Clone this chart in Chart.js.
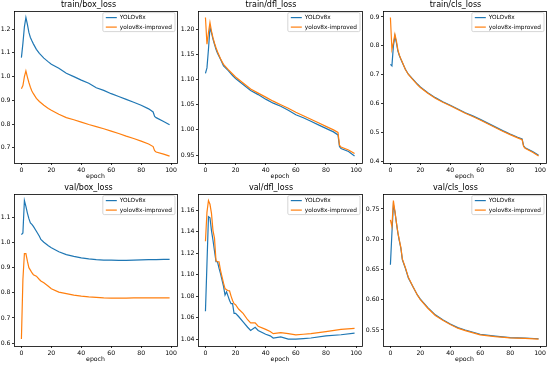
<!DOCTYPE html>
<html>
<head>
<meta charset="utf-8">
<script src="https://cdn.jsdelivr.net/npm/chart.js@4/dist/chart.umd.min.js"></script>
<style>
  html, body { margin: 0; padding: 0; background: #fff; }
  #fig { position: relative; width: 550px; height: 365px; overflow: hidden; }
  #fig canvas { position: absolute; }
</style>
</head>
<body>
<div id="fig">
  <canvas id="c0" width="180" height="182" style="left:0;top:0"></canvas>
  <canvas id="c1" width="185" height="182" style="left:180px;top:0"></canvas>
  <canvas id="c2" width="185" height="182" style="left:365px;top:0"></canvas>
  <canvas id="c3" width="180" height="182" style="left:0;top:183px"></canvas>
  <canvas id="c4" width="185" height="182" style="left:180px;top:183px"></canvas>
  <canvas id="c5" width="185" height="182" style="left:365px;top:183px"></canvas>
</div>
<script>
// epochs sampled for the training curves
const trainEpochs = [0,1,2,3,4,5,6,7,8,10,12,15,18,20,25,30,35,40,45,50,55,60,65,70,75,80,85,88,89,90,95,99];

const trainBoxV8  = [1.080,1.140,1.210,1.249,1.220,1.186,1.165,1.151,1.138,1.115,1.098,1.078,1.062,1.052,1.035,1.014,1.000,0.985,0.972,0.953,0.942,0.928,0.916,0.904,0.892,0.879,0.864,0.851,0.832,0.827,0.811,0.797];
const trainBoxImp = [0.949,0.962,1.000,1.024,0.998,0.975,0.955,0.939,0.928,0.908,0.895,0.879,0.866,0.858,0.841,0.827,0.818,0.808,0.798,0.789,0.780,0.770,0.760,0.749,0.739,0.728,0.716,0.705,0.688,0.682,0.673,0.665];

const trainDflV8  = [1.112,1.123,1.160,1.203,1.193,1.180,1.170,1.160,1.152,1.140,1.127,1.118,1.108,1.102,1.090,1.078,1.070,1.061,1.053,1.047,1.039,1.030,1.024,1.017,1.010,1.003,0.996,0.990,0.967,0.963,0.957,0.948];
const trainDflImp = [1.223,1.170,1.193,1.213,1.196,1.183,1.172,1.163,1.155,1.141,1.130,1.120,1.111,1.105,1.093,1.081,1.073,1.065,1.057,1.050,1.043,1.035,1.028,1.021,1.014,1.007,1.000,0.995,0.970,0.966,0.960,0.953];

const trainClsV8  = [0.736,0.731,0.800,0.834,0.811,0.782,0.766,0.754,0.742,0.719,0.702,0.685,0.668,0.658,0.638,0.621,0.607,0.595,0.582,0.569,0.558,0.546,0.533,0.520,0.507,0.495,0.484,0.478,0.454,0.448,0.435,0.422];
const trainClsImp = [0.898,0.788,0.811,0.840,0.817,0.786,0.768,0.755,0.743,0.718,0.701,0.683,0.666,0.656,0.636,0.619,0.605,0.593,0.580,0.567,0.556,0.544,0.531,0.518,0.505,0.493,0.482,0.476,0.452,0.446,0.432,0.419];

const valBoxEpochs = [0,1,2,3,4,5,6,7,8,10,12,13,15,18,20,25,30,35,40,45,50,55,60,65,70,75,80,85,90,95,99];
const valBoxV8  = [1.031,1.038,1.167,1.144,1.117,1.095,1.078,1.072,1.064,1.045,1.025,1.012,1.001,0.987,0.979,0.963,0.952,0.945,0.939,0.935,0.932,0.930,0.930,0.929,0.929,0.930,0.931,0.932,0.932,0.933,0.933];
const valBoxImp = [0.616,0.853,0.956,0.956,0.926,0.900,0.890,0.880,0.872,0.866,0.853,0.847,0.840,0.826,0.816,0.803,0.797,0.791,0.787,0.784,0.782,0.780,0.779,0.779,0.779,0.780,0.780,0.780,0.780,0.780,0.780];

const valDflEpochs = [0,1,2,3,4,5,6,7,8,9,10,12,13,14,15,16,17,18,19,20,22,25,28,30,33,35,40,43,45,50,55,60,65,70,80,90,99];
const valDflV8  = [1.066,1.110,1.154,1.153,1.141,1.132,1.122,1.112,1.112,1.106,1.101,1.089,1.081,1.084,1.080,1.076,1.073,1.073,1.064,1.064,1.061,1.056,1.051,1.048,1.051,1.048,1.0445,1.043,1.041,1.042,1.040,1.040,1.0405,1.041,1.043,1.044,1.0455];
const valDflImp = [1.131,1.158,1.169,1.1655,1.157,1.141,1.134,1.113,1.112,1.112,1.104,1.092,1.087,1.086,1.085,1.085,1.080,1.076,1.073,1.072,1.068,1.064,1.058,1.055,1.055,1.052,1.049,1.047,1.045,1.046,1.045,1.044,1.0445,1.045,1.047,1.049,1.050];

const valClsEpochs = [0,1,2,3,4,5,6,7,8,10,12,15,18,20,25,30,35,40,45,50,60,70,80,90,99];
const valClsV8  = [0.658,0.710,0.757,0.746,0.727,0.710,0.697,0.685,0.666,0.652,0.636,0.622,0.608,0.601,0.587,0.575,0.567,0.560,0.554,0.550,0.543,0.540,0.5375,0.5365,0.5355];
const valClsImp = [0.732,0.721,0.764,0.746,0.728,0.711,0.698,0.686,0.667,0.653,0.637,0.622,0.608,0.600,0.586,0.574,0.566,0.559,0.553,0.549,0.542,0.539,0.537,0.536,0.535];

const seriesNames = ['YOLOv8x', 'yolov8x-improved'];
const xTicks = [0, 20, 40, 60, 80, 100];

const panels = [
    { id: 'c0', title: 'train/box_loss', x: trainEpochs,  a: trainBoxV8, b: trainBoxImp, step: 0.1,  dec: 1, yw: 14, pr: 3 },
    { id: 'c1', title: 'train/dfl_loss', x: trainEpochs,  a: trainDflV8, b: trainDflImp, step: 0.05, dec: 2, yw: 18, pr: 3 },
    { id: 'c2', title: 'train/cls_loss', x: trainEpochs,  a: trainClsV8, b: trainClsImp, step: 0.1,  dec: 1, yw: 18, pr: 4 },
    { id: 'c3', title: 'val/box_loss',   x: valBoxEpochs, a: valBoxV8,   b: valBoxImp,   step: 0.1,  dec: 1, yw: 14, pr: 3 },
    { id: 'c4', title: 'val/dfl_loss',   x: valDflEpochs, a: valDflV8,   b: valDflImp,   step: 0.02, dec: 2, yw: 18, pr: 3 },
    { id: 'c5', title: 'val/cls_loss',   x: valClsEpochs, a: valClsV8,   b: valClsImp,   step: 0.05, dec: 2, yw: 18, pr: 4 },
];

const BLUE = '#1f77b4', ORANGE = '#ff7f0e';
const FONT = 'DejaVu Sans';

// axes frame on all four sides, like matplotlib
const framePlugin = {
    id: 'frame',
    afterDatasetsDraw(chart) {
        const a = chart.chartArea, c = chart.ctx;
        c.save();
        c.strokeStyle = '#000';
        c.lineWidth = 0.8;
        c.strokeRect(Math.round(a.left) + 0.5, Math.round(a.top) + 0.5,
                     Math.round(a.right - a.left), Math.round(a.bottom - a.top));
        c.restore();
    }
};

// legend box in the upper right of the plot area
const innerLegend = {
    id: 'innerLegend',
    afterDraw(chart) {
        const a = chart.chartArea, c = chart.ctx;
        c.save();
        c.font = '5.8px "' + FONT + '"';
        const tw = Math.max(...seriesNames.map(s => c.measureText(s).width));
        const w = tw + 20, h = 19;
        const x = a.right - 2 - w, y = a.top + 2;
        c.fillStyle = 'rgba(255,255,255,0.85)';
        c.strokeStyle = '#cccccc';
        c.lineWidth = 0.8;
        c.beginPath();
        c.roundRect(x, y, w, h, 1.5);
        c.fill();
        c.stroke();
        [BLUE, ORANGE].forEach((col, i) => {
            const ly = y + 5 + i * 9.5;
            c.strokeStyle = col;
            c.lineWidth = 1.2;
            c.beginPath();
            c.moveTo(x + 3, ly);
            c.lineTo(x + 14, ly);
            c.stroke();
            c.fillStyle = '#000';
            c.textBaseline = 'middle';
            c.fillText(seriesNames[i], x + 17, ly + 0.3);
        });
        c.restore();
    }
};

function yLimits(a, b) {
    const lo = Math.min(...a, ...b), hi = Math.max(...a, ...b);
    const m = (hi - lo) * 0.05;
    return [lo - m, hi + m];
}

panels.forEach(p => {
    const [ymin, ymax] = yLimits(p.a, p.b);
    const ctx = document.getElementById(p.id).getContext('2d');
    new Chart(ctx, {
        type: 'line',
        data: {
            datasets: [
                {
                    label: seriesNames[0],
                    data: p.x.map((e, i) => ({ x: e, y: p.a[i] })),
                    borderColor: BLUE,
                    borderWidth: 1.2,
                    pointRadius: 0,
                    tension: 0,
                    order: 1,
                },
                {
                    label: seriesNames[1],
                    data: p.x.map((e, i) => ({ x: e, y: p.b[i] })),
                    borderColor: ORANGE,
                    borderWidth: 1.2,
                    pointRadius: 0,
                    tension: 0,
                    order: 0,
                }
            ]
        },
        options: {
            responsive: false,
            animation: false,
            layout: { padding: { left: 0, right: p.pr, top: 0, bottom: 0 } },
            plugins: {
                legend: { display: false },
                tooltip: { enabled: false },
                title: {
                    display: true,
                    text: p.title,
                    color: '#000',
                    font: { family: FONT, size: 8, weight: 'normal', lineHeight: 1.2 },
                    padding: { top: 0.5, bottom: 0.5 },
                }
            },
            scales: {
                x: {
                    type: 'linear',
                    min: -4.95,
                    max: 103.95,
                    afterBuildTicks: s => { s.ticks = xTicks.map(v => ({ value: v })); },
                    afterFit: s => { s.height = 19; s.paddingLeft = 0; s.paddingRight = 0; },
                    grid: { drawOnChartArea: false, tickLength: 2, color: '#000', lineWidth: 0.8 },
                    border: { display: false },
                    ticks: { color: '#000', padding: 1.5, maxRotation: 0, font: { family: FONT, size: 6.2 } },
                    title: {
                        display: true, text: 'epoch', color: '#000',
                        padding: { top: 0, bottom: 2 },
                        font: { family: FONT, size: 6.2, lineHeight: 1.2 }
                    }
                },
                y: {
                    min: ymin,
                    max: ymax,
                    afterFit: s => { s.width = p.yw; s.paddingTop = 0; s.paddingBottom = 0; },
                    grid: { drawOnChartArea: false, tickLength: 2, color: '#000', lineWidth: 0.8 },
                    border: { display: false },
                    ticks: {
                        stepSize: p.step,
                        includeBounds: false,
                        color: '#000',
                        padding: 1.5,
                        font: { family: FONT, size: 6.2 },
                        callback: v => v.toFixed(p.dec)
                    }
                }
            }
        },
        plugins: [framePlugin, innerLegend]
    });
});
</script>
</body>
</html>
